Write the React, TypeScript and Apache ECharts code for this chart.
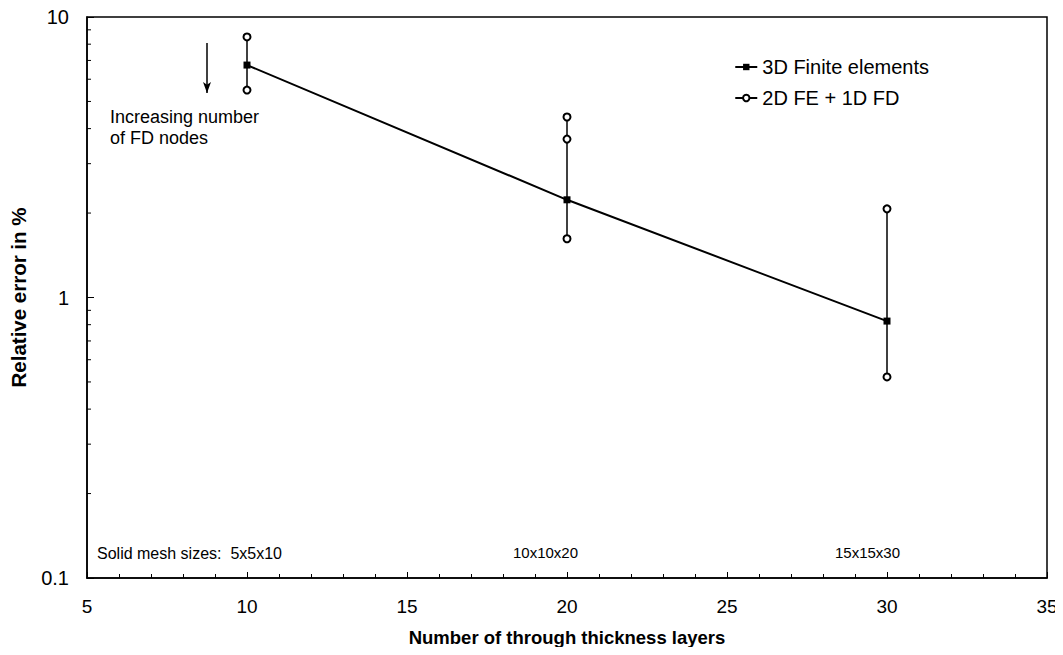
import React, { useEffect, useRef } from "react";
import * as echarts from "echarts";

const layers = [10, 20, 30];
const fe3d = [6.74, 2.23, 0.824];
const fd2dAt10 = [8.49, 5.49];
const fd2dAt20 = [4.4, 3.67, 1.62];
const fd2dAt30 = [2.07, 0.521];
const meshLabels = ["Solid mesh sizes:  5x5x10", "10x10x20", "15x15x30"];
const yMinorTicks = [0.2, 0.3, 0.4, 0.5, 0.6, 0.7, 0.8, 0.9, 2, 3, 4, 5, 6, 7, 8, 9];
const arrowX = 8.75;
const arrowFrom = 8.08;
const arrowTo = 5.36;

const FONT = "'Liberation Sans', Arial, sans-serif";

export default function App() {
  const ref = useRef<HTMLDivElement>(null);
  useEffect(() => {
    if (!ref.current) return;
    const chart = echarts.init(ref.current, undefined, { renderer: "svg" });

    const fdData: any[] = [];
    fd2dAt10.forEach((v) => fdData.push([layers[0], v]));
    fdData.push("-");
    fd2dAt20.forEach((v) => fdData.push([layers[1], v]));
    fdData.push("-");
    fd2dAt30.forEach((v) => fdData.push([layers[2], v]));

    chart.setOption({
      animation: false,
      backgroundColor: "#fff",
      textStyle: { fontFamily: FONT, color: "#000" },
      grid: {
        left: 87,
        right: 16,
        top: 17,
        bottom: 77,
        show: true,
        borderColor: "#000",
        borderWidth: 1.5,
        backgroundColor: "transparent",
      },
      legend: {
        right: 129,
        top: 52,
        orient: "vertical",
        itemGap: 11,
        itemWidth: 22,
        itemHeight: 8,
        textStyle: { fontFamily: FONT, fontSize: 20, color: "#000" },
        data: ["3D Finite elements", "2D FE + 1D FD"],
      },
      xAxis: {
        type: "value",
        min: 5,
        max: 35,
        interval: 5,
        name: "Number of through thickness layers",
        nameLocation: "middle",
        nameGap: 50,
        nameTextStyle: { fontFamily: FONT, fontSize: 18.5, fontWeight: "bold", color: "#000", verticalAlign: "top" },
        axisLine: { show: true, lineStyle: { color: "#000", width: 1.5 } },
        axisTick: { show: true, inside: true, length: 6, lineStyle: { color: "#000" } },
        minorTick: { show: true, splitNumber: 5, length: 4, lineStyle: { color: "#000" } },
        axisLabel: { fontFamily: FONT, fontSize: 19, color: "#000", margin: 19 },
        splitLine: { show: false },
      },
      yAxis: {
        type: "log",
        logBase: 10,
        min: 0.1,
        max: 10,
        name: "Relative error in %",
        nameLocation: "middle",
        nameGap: 58,
        nameRotate: 90,
        nameTextStyle: { fontFamily: FONT, fontSize: 20.5, fontWeight: "bold", color: "#000" },
        axisLine: { show: true, lineStyle: { color: "#000", width: 1.5 } },
        axisTick: { show: true, inside: true, length: 7, lineStyle: { color: "#000" } },
        axisLabel: { fontFamily: FONT, fontSize: 20, color: "#000", margin: 18 },
        splitLine: { show: false },
      },
      graphic: [
        {
          type: "text",
          left: 110,
          top: 106,
          style: {
            text: "Increasing number\nof FD nodes",
            fontFamily: FONT,
            fontSize: 18,
            lineHeight: 21,
            fill: "#000",
          },
        },
        {
          type: "text",
          left: 97,
          top: 545,
          style: { text: meshLabels[0], fontFamily: FONT, fontSize: 16, fill: "#000" },
        },
        {
          type: "text",
          left: 513,
          top: 545,
          style: { text: meshLabels[1], fontFamily: FONT, fontSize: 15, fill: "#000" },
        },
        {
          type: "text",
          left: 835,
          top: 545,
          style: { text: meshLabels[2], fontFamily: FONT, fontSize: 15, fill: "#000" },
        },
      ],
      series: [
        {
          name: "2D FE + 1D FD",
          type: "line",
          data: fdData,
          connectNulls: false,
          symbol: "emptyCircle",
          symbolSize: 7,
          lineStyle: { color: "#000", width: 1.5 },
          itemStyle: { color: "#000", borderColor: "#000", borderWidth: 1.5 },
          z: 3,
        },
        {
          name: "3D Finite elements",
          type: "line",
          data: layers.map((x, i) => [x, fe3d[i]]),
          symbol: "rect",
          symbolSize: 7,
          lineStyle: { color: "#000", width: 2 },
          itemStyle: { color: "#000" },
          z: 4,
          markLine: {
            silent: true,
            symbol: ["none", "arrow"],
            symbolSize: [6, 11],
            label: { show: false },
            lineStyle: { color: "#000", width: 1.5, type: "solid" },
            data: [[{ coord: [arrowX, arrowFrom] }, { coord: [arrowX, arrowTo] }]],
          },
        },
        {
          name: "minorTicks",
          type: "custom",
          silent: true,
          data: yMinorTicks.map((v) => [5, v]),
          renderItem: (params: any, api: any) => {
            const p = api.coord([api.value(0), api.value(1)]);
            return {
              type: "line",
              shape: { x1: p[0], y1: p[1], x2: p[0] + 4, y2: p[1] },
              style: { stroke: "#000", lineWidth: 1 },
            };
          },
          z: 2,
        },
      ],
    });
    return () => chart.dispose();
  }, []);
  return <div ref={ref} style={{ width: 1063, height: 655, margin: -8 }} />;
}
